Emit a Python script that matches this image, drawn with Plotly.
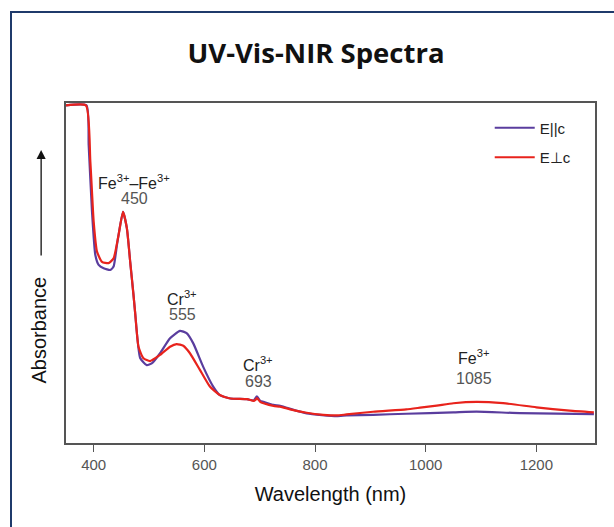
import plotly.graph_objects as go

# Wavelength (nm) and relative absorbance
red_nm = [350, 386, 394, 400, 406, 415, 427, 436, 445, 453, 460, 466, 472, 475, 481, 490, 502, 520,
          538, 550, 562, 574, 592, 610, 628, 647, 677, 689, 692, 695, 701, 707, 725, 737, 755, 785,
          815, 839, 857, 905, 965, 990, 1020, 1050, 1092, 1140, 1200, 1260, 1304]
red_abs = [0.993, 0.993, 0.827, 0.651, 0.563, 0.533, 0.529, 0.543, 0.612, 0.680, 0.632, 0.533, 0.435,
           0.382, 0.283, 0.249, 0.241, 0.259, 0.283, 0.291, 0.286, 0.264, 0.215, 0.166, 0.141, 0.131,
           0.129, 0.124, 0.126, 0.132, 0.121, 0.117, 0.109, 0.107, 0.099, 0.089, 0.083, 0.081, 0.084,
           0.092, 0.099, 0.104, 0.110, 0.117, 0.121, 0.117, 0.105, 0.095, 0.090]

blue_nm = [350, 387, 391, 397, 403, 409, 418, 430, 436, 442, 445, 453, 460, 466, 472, 475, 484, 496,
           505, 520, 538, 556, 568, 580, 598, 616, 628, 647, 677, 689, 695, 701, 707, 725, 737, 785,
           839, 857, 905, 965, 1050, 1092, 1170, 1304]
blue_abs = [0.993, 0.993, 0.876, 0.680, 0.553, 0.524, 0.514, 0.509, 0.519, 0.582, 0.612, 0.680, 0.632,
            0.533, 0.435, 0.382, 0.250, 0.229, 0.234, 0.264, 0.308, 0.330, 0.323, 0.293, 0.224, 0.166,
            0.141, 0.131, 0.129, 0.125, 0.137, 0.124, 0.121, 0.112, 0.109, 0.087, 0.079, 0.081, 0.083,
            0.086, 0.090, 0.092, 0.088, 0.085]

# Band labels
band_x = [473, 560, 697, 1087]
band_y_name = [0.768, 0.426, 0.232, 0.253]
band_y_num = [0.718, 0.379, 0.182, 0.191]
band_names = ["Fe<sup>3+</sup>–Fe<sup>3+</sup>", "Cr<sup>3+</sup>", "Cr<sup>3+</sup>", "Fe<sup>3+</sup>"]
band_nums = ["450", "555", "693", "1085"]

x_ticks = [400, 600, 800, 1000, 1200]

FONT = "Liberation Sans, Arial, sans-serif"

fig = go.Figure()
fig.add_trace(go.Scatter(x=blue_nm, y=blue_abs, mode="lines", name="E||c",
                         line=dict(color="#5a3d9e", width=2.2, shape="spline", smoothing=0.5),
                         legendgroup="a"))
fig.add_trace(go.Scatter(x=red_nm, y=red_abs, mode="lines", name="E⊥c",
                         line=dict(color="#e8231c", width=2.2, shape="spline", smoothing=0.5),
                         legendgroup="b"))

for bx, yn, ynum, nm_txt, num_txt in zip(band_x, band_y_name, band_y_num, band_names, band_nums):
    fig.add_annotation(x=bx, y=yn, text=nm_txt, showarrow=False,
                       font=dict(family=FONT, size=16, color="#222"))
    fig.add_annotation(x=bx, y=ynum, text=num_txt, showarrow=False,
                       font=dict(family=FONT, size=16, color="#555"))

# Y axis label with arrow
fig.add_annotation(x=-0.076, y=0.17, xref="x domain", yref="y domain", text="Absorbance",
                   textangle=-90, showarrow=False, font=dict(family=FONT, size=20, color="#111"))
fig.add_annotation(x=-0.047, y=0.862, xref="x domain", yref="y domain",
                   ax=-0.047, ay=0.547, axref="x domain", ayref="y domain",
                   text="", showarrow=True, arrowhead=2, arrowsize=1.4, arrowwidth=1.3,
                   arrowcolor="#111")

# Outer frame
fig.add_shape(type="rect", xref="paper", yref="paper",
              x0=(11 - 66) / 529, x1=1.2, y0=-0.4, y1=(443 - 12) / 340,
              line=dict(color="#1f3a6b", width=2), layer="below")

fig.update_layout(
    width=614, height=527,
    margin=dict(l=66, r=19, t=103, b=84),
    paper_bgcolor="white", plot_bgcolor="white",
    title=dict(text="<b>UV-Vis-NIR Spectra</b>", x=316 / 614, xanchor="center",
               y=1 - 53 / 527, yanchor="middle",
               font=dict(family="Open Sans, sans-serif", size=27.5, color="#111")),
    legend=dict(x=0.801, y=0.975, xanchor="left", yanchor="top",
                font=dict(family=FONT, size=15, color="#222"),
                bgcolor="rgba(0,0,0,0)", tracegroupgap=7, itemwidth=40),
    showlegend=True,
)
fig.update_xaxes(range=[350, 1306], tickvals=x_ticks, ticks="outside", ticklen=7,
                 tickcolor="#555", tickwidth=1.3, showline=True, linecolor="#555", linewidth=1.5,
                 mirror=True, showgrid=False, zeroline=False,
                 tickfont=dict(family=FONT, size=15, color="#555"),
                 title=dict(text="Wavelength (nm)", font=dict(family=FONT, size=20, color="#111"),
                            standoff=15))
fig.update_yaxes(range=[0, 1], showticklabels=False, ticks="", showline=True, linecolor="#555",
                 linewidth=1.5, mirror=True, showgrid=False, zeroline=False)

fig.write_html("out.html")
